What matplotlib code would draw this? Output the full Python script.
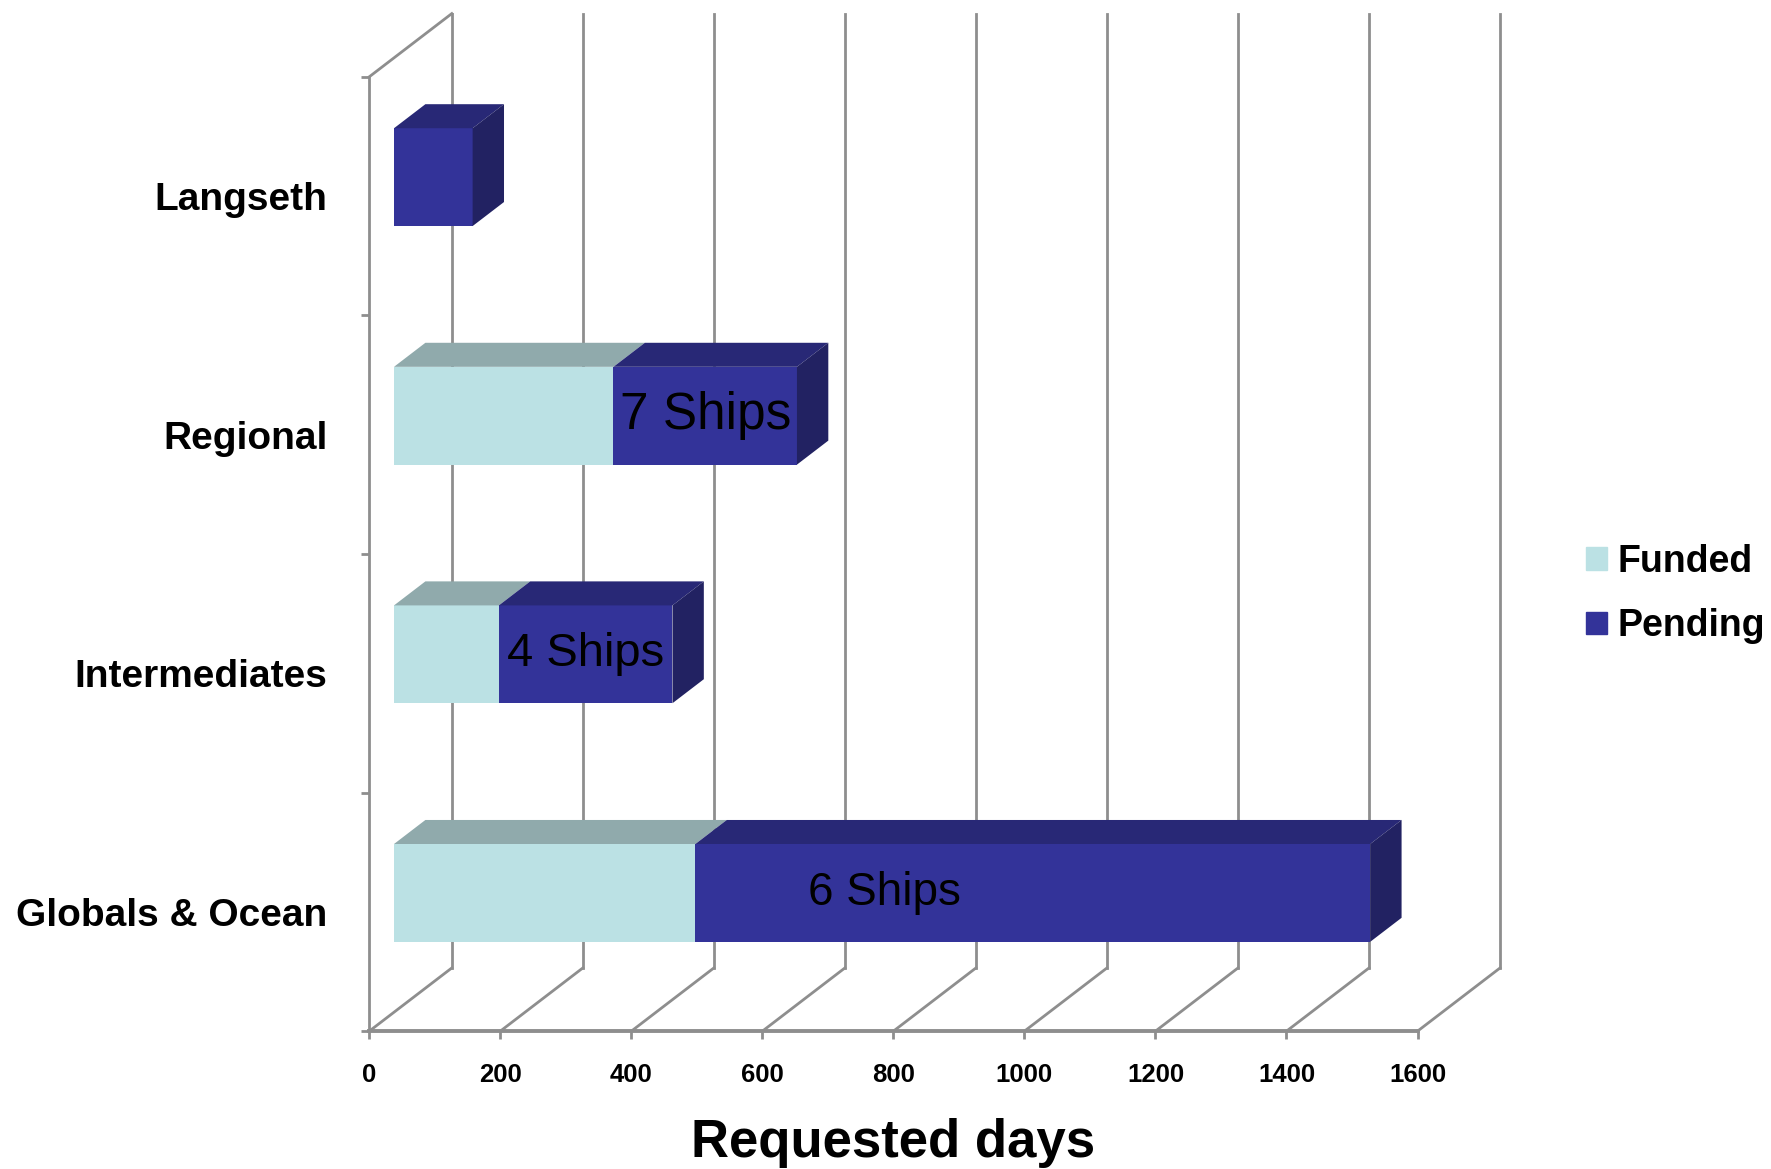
import matplotlib
matplotlib.use("Agg")
from matplotlib import pyplot as plt
from matplotlib.patches import Patch
import numpy as np

# data, bottom to top
categories = ["Globals & Ocean", "Intermediates", "Regional", "Langseth"]
funded = [460, 160, 335, 0]
pending = [1030, 265, 280, 120]
ship_labels = ["6 Ships", "4 Ships", "7 Ships", ""]
x_ticks = [0, 200, 400, 600, 800, 1000, 1200, 1400, 1600]

# look
c_funded, c_funded_top = "#BBE1E4", "#90AAAC"
c_pend, c_pend_top, c_pend_side = "#333399", "#282876", "#222262"
c_grid = "#8E8E8E"
DX, DY = 126, 0.265          # depth of the fake 3d box, in data units
F0, F1 = 0.30, 0.68          # bar front / back position inside the depth
BAR_H = 0.41
FONT = "Liberation Sans"

fig = plt.figure(figsize=(17.71, 11.69), dpi=100)
ax = fig.add_axes([0.2085, 0.1179, 0.5919, 0.8164])
ax.set_xlim(0, 1600)
ax.set_ylim(0, 4)

# back wall and floor lines
for x in x_ticks:
    ax.plot([x + DX, x + DX], [DY, 4 + DY], color=c_grid, lw=2.0, zorder=1, clip_on=False)
    ax.plot([x, x + DX], [0, DY], color=c_grid, lw=2.0, zorder=1, clip_on=False)
ax.plot([0, DX], [4, 4 + DY], color=c_grid, lw=2.0, zorder=1, clip_on=False)

# bars
y_pos = np.arange(len(categories)) + 0.5 + F0 * DY
x0 = F0 * DX
x1 = F1 * DX
dd = (F1 - F0) * DY
left_p = np.array(funded) + x0
ax.barh(y_pos, funded, left=x0, height=BAR_H, color=c_funded, zorder=3)
ax.barh(y_pos, pending, left=left_p, height=BAR_H, color=c_pend, zorder=3)

for i in range(len(categories)):
    yt = y_pos[i] + BAR_H / 2
    yb = y_pos[i] - BAR_H / 2
    segs = [(0, funded[i], c_funded_top), (funded[i], funded[i] + pending[i], c_pend_top)]
    for a, b, col in segs:
        if b - a <= 0:
            continue
        ax.fill([a + x0, b + x0, b + x1, a + x1], [yt, yt, yt + dd, yt + dd],
                color=col, zorder=3, lw=0)
    end = funded[i] + pending[i]
    ax.fill([end + x0, end + x0, end + x1, end + x1], [yb, yt, yt + dd, yb + dd],
            color=c_pend_side, zorder=3, lw=0)
    if ship_labels[i]:
        if i == 0:
            lx = funded[i] + pending[i] * 0.28 + x0
            fs = 33
        else:
            lx = funded[i] + pending[i] / 2 + x0
            fs = 37 if i == 2 else 34
        ax.text(lx, y_pos[i], ship_labels[i], ha="center", va="center",
                fontsize=fs, family=FONT, color="black", zorder=5)

# axes
for s in ["top", "right"]:
    ax.spines[s].set_visible(False)
ax.spines["left"].set_color(c_grid)
ax.spines["left"].set_linewidth(2.0)
ax.spines["bottom"].set_color(c_grid)
ax.spines["bottom"].set_linewidth(2.8)

ax.set_xticks(x_ticks)
ax.set_xticklabels([str(t) for t in x_ticks], fontsize=18.5, fontweight="bold", family=FONT)
ax.tick_params(axis="x", length=5.8, width=2.0, color=c_grid, pad=17)

ax.set_yticks([0, 1, 2, 3, 4])
ax.set_yticklabels([])
ax.tick_params(axis="y", which="major", length=5.8, width=2.0, color=c_grid)
ax.set_yticks([0.5, 1.5, 2.5, 3.5], minor=True)
ax.set_yticklabels(categories, minor=True, fontsize=28, fontweight="bold", family=FONT)
ax.tick_params(axis="y", which="minor", length=0, pad=30)

fig.text(893 / 1771, 0.022, "Requested days", ha="center", va="center",
         fontsize=38, fontweight="bold", family=FONT)

handles = [Patch(color=c_funded), Patch(color=c_pend)]
fig.legend(handles, ["Funded", "Pending"], loc="center left",
           bbox_to_anchor=(1586 / 1771, 1 - 594 / 1169), frameon=False,
           prop={"family": FONT, "weight": "bold", "size": 27},
           handlelength=0.55, handleheight=0.55, handletextpad=0.3,
           labelspacing=0.75, borderpad=0, borderaxespad=0)

fig.savefig("out.png", dpi=100)
